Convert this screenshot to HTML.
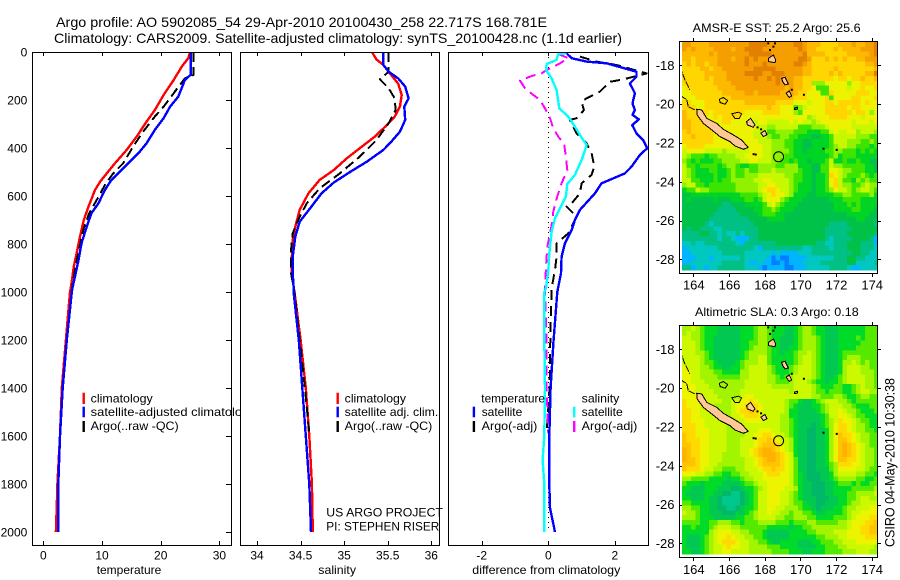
<!DOCTYPE html>
<html lang="en">
<head>
<meta charset="utf-8">
<title>Argo profile 5902085_54</title>
<style>
html,body{margin:0;padding:0;background:#fff;}
svg{display:block;}
text{font-family:"Liberation Sans",sans-serif;fill:#000;}
.t12{font-size:12px;}
.t14{font-size:14px;}
</style>
</head>
<body>
<svg id="chart" xmlns="http://www.w3.org/2000/svg" width="900" height="580" viewBox="0 0 900 580">
  <rect x="0" y="0" width="900" height="580" fill="#fff"/>
  <defs>
    <clipPath id="clip-temp"><rect x="32" y="52" width="199" height="493"/></clipPath>
    <clipPath id="clip-sal"><rect x="240" y="52" width="199" height="493"/></clipPath>
    <clipPath id="clip-diff"><rect x="448" y="52" width="200" height="493"/></clipPath>
    <clipPath id="clip-sst"><rect x="682" y="42" width="195" height="229"/></clipPath>
    <clipPath id="clip-sla"><rect x="682" y="326" width="195" height="229"/></clipPath>
  </defs>

  <text class="t14" x="56" y="27" textLength="491" lengthAdjust="spacingAndGlyphs">Argo profile: AO 5902085_54 29-Apr-2010 20100430_258 22.717S 168.781E</text>
  <text class="t14" x="54" y="43" textLength="568" lengthAdjust="spacingAndGlyphs">Climatology: CARS2009. Satellite-adjusted climatology: synTS_20100428.nc (1.1d earlier)</text>

  <g id="temp-layer"></g>
  <text class="t12" x="90.7" y="402.3" textLength="62" lengthAdjust="spacingAndGlyphs">climatology</text>
  <text class="t12" x="90.7" y="416" textLength="165" lengthAdjust="spacingAndGlyphs">satellite-adjusted climatology</text>
  <text class="t12" x="90.7" y="430" textLength="88" lengthAdjust="spacingAndGlyphs">Argo(..raw -QC)</text>
  <text class="t12" x="96.7" y="574" textLength="64.6" lengthAdjust="spacingAndGlyphs">temperature</text>

  <rect x="240" y="50" width="199" height="497" fill="#fff"/>
  <g id="sal-layer"></g>
  <text class="t12" x="344.7" y="402.3" textLength="61.3" lengthAdjust="spacingAndGlyphs">climatology</text>
  <text class="t12" x="344.7" y="416" textLength="93.6" lengthAdjust="spacingAndGlyphs">satellite adj. clim.</text>
  <text class="t12" x="344.7" y="430" textLength="87.6" lengthAdjust="spacingAndGlyphs">Argo(..raw -QC)</text>
  <text class="t12" x="326.3" y="516.7" textLength="116.7" lengthAdjust="spacingAndGlyphs">US ARGO PROJECT</text>
  <text class="t12" x="326.3" y="530.7" textLength="113" lengthAdjust="spacingAndGlyphs">PI: STEPHEN RISER</text>
  <text class="t12" x="318.3" y="574" textLength="37.7" lengthAdjust="spacingAndGlyphs">salinity</text>

  <g id="diff-layer"></g>
  <text class="t12" x="481.3" y="402.3" textLength="63.7" lengthAdjust="spacingAndGlyphs">temperature</text>
  <text class="t12" x="481.7" y="416" textLength="40.6" lengthAdjust="spacingAndGlyphs">satellite</text>
  <text class="t12" x="481.7" y="430" textLength="55.6" lengthAdjust="spacingAndGlyphs">Argo(-adj)</text>
  <text class="t12" x="581.7" y="402.3" textLength="37.6" lengthAdjust="spacingAndGlyphs">salinity</text>
  <text class="t12" x="581.7" y="416" textLength="41" lengthAdjust="spacingAndGlyphs">satellite</text>
  <text class="t12" x="581.7" y="430" textLength="55.6" lengthAdjust="spacingAndGlyphs">Argo(-adj)</text>
  <text class="t12" x="472.3" y="574" textLength="148" lengthAdjust="spacingAndGlyphs">difference from climatology</text>

  <text class="t12" x="692.7" y="32" textLength="168" lengthAdjust="spacingAndGlyphs">AMSR-E SST: 25.2 Argo: 25.6</text>
  <g id="sst-layer"></g>
  <text class="t12" x="695" y="316" textLength="163.7" lengthAdjust="spacingAndGlyphs">Altimetric SLA: 0.3 Argo: 0.18</text>
  <g id="sla-layer"></g>
  <text class="t14" transform="translate(894.5,547) rotate(-90)" x="0" y="0" textLength="169" lengthAdjust="spacingAndGlyphs">CSIRO 04-May-2010 10:30:38</text>
</svg>

<script>
// ---------- profile data (depth in dbar, values in data units) ----------
const depthTicks = [0,200,400,600,800,1000,1200,1400,1600,1800,2000];
const tempTicks = [0,10,20,30];
const salTicks = [34,34.5,35,35.5,36];
const salTickLabels = ['34','34.5','35','35.5','36'];
const diffTicks = [-2,0,2];

const climTempDepth = [0,26,61,117,179,242,290,353,408,464,506,540,575,644,700,769,825,894,964,1000,1200,1400,1600,1800,1810,2000];
const climTempValues = [25.0,24.7,23.6,22.2,20.5,19.0,17.6,15.9,14.2,12.2,10.8,9.7,8.8,7.7,6.9,6.25,5.8,5.2,4.8,4.55,3.85,3.15,2.85,2.4,2.4,2.15];

const satTempDepth = [0,95,117,186,228,276,325,380,422,471,533,575,630,672,728,797,867,936,978,1000,1200,1400,1600,1800,2000];
const satTempValues = [25.1,25.1,24.1,23.0,21.6,20.5,19.0,17.6,16.2,14.2,11.6,10.5,9.4,8.2,7.4,6.5,6.0,5.4,5.0,4.85,4.0,3.3,2.85,2.55,2.55];

const argoTempDepth = [0,95,110,172,228,269,332,394,464,506,554,617,672,742,811,880,964,1000,1200,1400];
const argoTempValues = [25.6,25.6,24.1,22.2,20.5,19.0,17.0,15.3,13.6,11.9,10.5,9.1,7.8,6.8,6.2,5.6,5.0,4.8,4.0,3.3];

const climSalDepth = [0,31,54,96,132,179,228,269,304,353,401,443,492,533,589,658,728,783,853,922,978,1000,1200,1400,1600,1800,2000];
const climSalValues = [35.32,35.37,35.45,35.54,35.62,35.66,35.64,35.58,35.49,35.35,35.18,35.03,34.88,34.72,34.59,34.49,34.44,34.41,34.40,34.40,34.42,34.43,34.50,34.56,34.60,34.63,34.64];

const satSalDepth = [0,54,82,110,144,193,228,283,332,374,408,457,499,544,589,651,707,769,853,922,978,1000,1200,1400,1600,1800,2000];
const satSalValues = [35.45,35.45,35.51,35.62,35.70,35.74,35.69,35.70,35.64,35.54,35.45,35.26,35.07,34.88,34.74,34.61,34.49,34.44,34.41,34.41,34.42,34.42,34.48,34.52,34.56,34.60,34.62];

const argoSalDepth = [0,82,114,151,193,242,297,367,436,506,568,631,700,756,825,922,978,1000,1200,1400,1590];
const argoSalValues = [35.51,35.51,35.41,35.51,35.58,35.59,35.51,35.37,35.18,34.95,34.72,34.57,34.47,34.41,34.39,34.39,34.42,34.43,34.49,34.55,34.60];

const satTempDiffDepth = [6,26,40,47,82,103,131,172,214,242,262,281,304,339,367,401,429,478,506,547,589,658,700,742,797,853,922,985,1000,1200,1400,1600,1800,1900,2000];
const satTempDiffValues = [0.55,0.70,1.15,1.75,2.65,2.65,2.45,2.60,2.53,2.60,2.53,2.72,2.52,2.65,2.85,2.97,2.75,2.50,2.30,1.60,1.40,0.95,0.80,0.70,0.50,0.40,0.38,0.29,0.27,0.16,0.07,0.03,0.03,0.05,0.20];

const argoTempDiffDepth = [19,40,54,89,114,124,165,193,207,242,276,283,339,381,422,478,512,547,589,631,644,686,756,797,853,908,985,1200,1400,1590];
const argoTempDiffValues = [0.95,1.45,2.05,2.95,2.25,1.85,1.55,1.15,1.0,1.07,0.85,0.65,0.85,1.15,1.30,1.38,1.30,1.0,0.95,0.70,0.55,0.85,0.60,0.25,0.25,0.20,0.10,0.06,0.04,-0.05];

const satSalDiffDepth = [6,8,33,50,75,110,158,235,269,311,346,388,450,512,550,603,651,693,749,839,908,985,1000,1200,1400,1600,1700,1800,2000];
const satSalDiffValues = [0.55,0.30,0.25,-0.05,-0.07,0.10,0.25,0.33,0.60,0.80,0.95,1.15,1.0,0.80,0.57,0.53,0.35,0.20,0.10,0.03,0,-0.07,-0.12,-0.12,-0.10,-0.12,-0.17,-0.12,-0.12];

const argoSalDiffDepth = [8,26,47,75,89,100,119,151,179,200,235,276,318,353,381,436,492,547,611,665,700,756,811,894,985,1200,1400,1590];
const argoSalDiffValues = [0.30,0.60,0.35,-0.05,-0.20,-0.50,-0.85,-0.70,-0.45,-0.25,-0.10,0.05,0.15,0.30,0.47,0.53,0.57,0.40,0.25,0.15,0.13,0.05,-0.03,-0.07,-0.10,-0.05,-0.05,0.0];

const zeroLineDepth = [0,2000];

// ---------- map data: one letter per quarter-degree cell, a (cool/low) .. n (warm/high); spaces only aid reading ----------
const sstRows = [
 'mmlll lmmmm mmmmm nnnnm mmmmm nnmll lkkkk lllml lmmn',
 'mlmll llmmm mlmmn nnnmm mmmmm mnmll kkkkl kllll mmmn',
 'lllll lmlmm mmmmm nnnnn mmmmm mmnll llkkk kklll llmn',
 'llkll lllmm mlmmn mnmmm mmmmm mnnmk kklkl klkkl lmmm',
 'klkll kllmm mmmmn mmmnm mmmmm nnmlk kkkkk kkkkk kllm',
 'kkkkl lkllm mmmmm mnnnn nmmmm mmllk kkkkl kkkkk kkkl',
 'kkkkk lllll mmmmn nnnmm nnnmm mmllk kkklk lkkkk klln',
 'kkkkk lklll mmmmm mnmmn mnmmm llkkk kkkkj kkjkk lkkl',
 'kkkkk kklll lmmmm mmmmm mnmmm llkkh hhjjj jjhjj kkkk',
 'jkkkk kkkll llmmm mmmmm mmmlm llkkj gggjj jjijj kjjk',
 'jjkkk kkkkl llllm mlmmm mmllm lkkjj jggkj jjjjk kkjj',
 'jjjkk kkkkk kllll lllll lllll kkkjj jjkgj jjjkk jjjk',
 'kkjjj kkkkk kkkkl lllll lkkkk jjjij jjkkj kkkkk jkjj',
 'kkkjj kkkkk kkkkk kkkkl kkjjj ghijj jjkkk kkjkk jjjj',
 'lkkkk kjkkk kkkkj jjjkk kkjjj hgjjj jjkkk kkkjk kjhj',
 'lkkkk jjkjk kkkjj jjjjj jjjjj jjjhi jjjkk kkjjj ijjj',
 'llkkk jjjjk kjjjj jijji iiiij ijiih ijjjj jjjij jjij',
 'llkkk kjjjj jjjjj jjiih hiiii igggh hhijj jjjii iiii',
 'klkkk kkjjj jjjjj jiiig ghhhh gggff fggij iijjh iiih',
 'kklkk kkjjj jjjjj jiiih gghhg gfffe effgi iiiih hhgg',
 'kkkkk kkjjj jjjjj jjiii hhhgg ffeef fffgi iihhh gghg',
 'jkkkk jjjjj jjiij jjjii hhhgg ffeef fffgh iihhg ggfg',
 'ijjjj iiiih iiiii jjjii hhhhg ffeff ffggh hgggf gfgf',
 'ihggg fgghh hhiij jjjii hhhgg fffff fffgh fgggf ffff',
 'hgfgf ffggh hhhii jjiii hhggf gffef ffgif fgffg ffee',
 'iggfg gggfg hhgff gghhh hgghh hfffe eggih hgggg gffe',
 'ihgff fggff ghggh gghhh ihhhh hgffe eggjj ihhgg gffe',
 'ihgff ffgff ghggh hhiii iiihh ggffe ffgkj ihggg hgfg',
 'iiggf ffgfg ghhhh hiijj iiiih ggffe ffgjk iggfh ghgg',
 'hiigg fgggg gghhh hhiij jiiih gfffe ffgjk ihhgg hihh',
 'fggih hgggg gghhh hhijk kjiih gfffe ffghj iihgh iihg',
 'eefff fffff fffgg gghij kjjih fffee ffffg ghhgg gghf',
 'efeee eefee efffg gfgij jjhgf ffeee eeeff fgggg ffff',
 'eeeee eeeed deeef fffgi jhgff feeee eeeef ffgfg ffff',
 'eeeee eeedd ddeee effgg hgfff eeeee eeeef fffgg fffe',
 'eeeee eeddd dddee eefgg gffee eeeee eeeee eefff ffee',
 'eeeee edddd ddddd eeeef fffee eeeee eeeee eeeef feee',
 'eeeee dcddd ddddd deeee eeeee eeeee eeedd ddeee eeed',
 'edeed ddccd ddddd ddeee eeeee eeeee eeddd dddee eeee',
 'dddde eddcd ccdcd ddeee eeeee eeeee eeddd ddeee eeed',
 'ddddd dddcd dcbbb ddeee eeeee eeeee eedcd dddee eedb',
 'ccdcc ddddd ddcbd ddddd deeee eeeee ddccd ddeee dddb',
 'bcccc cccdd ddddd dcbdd ddddd ddccd dddcd ddeee dddc',
 'bbccc ccccd ddddc ccccc bcbbb bcccd ddddd dddee ddcc',
 'bbbcc cbccc cccdc ccccb abaab bbbcc ccccd ddeed dccc',
 'bbccc ccccd ddddc bbcbb aabab bbccc cdddd ddeec cccd',
 'ddbcc bccdd ddddc ccbab bbbaa bbbcc cccdd ddcbb cccc'
];
const slaRows = [
 'hhihg fffee eeeff fghhg fffee fghhg ffeee fffff fggg',
 'hihhg fffee eeeff fghhg fffee fghhg ffeee fffff fggg',
 'iihhg ffeee eeeff fghhg ffeee fghhh gfeee ffffg fggg',
 'iiihg ffeee eeeff gghhg ffeee fghhh gfeee fffff gggg',
 'iiihg ffeee eeeff ghhhg ffeef fghhh gfeee ffffg gggg',
 'iiihh gfeee eeefg hhhhg ffeff ghhih gfeee fgggg gggg',
 'iiiih gfeee eeefg hhiig fffff ghiih gfeee fghhh gggg',
 'iiiih ggfee eefgh hhiig fffff ghiih gfeee fhhih ghgg',
 'jiiih hgffe effgh iiiih gfffg hiiih gfeee fhiii hhgg',
 'jjiih hhggf fffhh iiiih gfffg hiiih gfeee fhiii hhhg',
 'jjiih hhhgg ggghh iiiih hgfgh iiiih gfeef ghiii ihhg',
 'jjiii hhhhh hhhhi iiiih hgggh iiihg ffeff ghiii ihhg',
 'jjjii ihhhh hhhhi iiiii hhhhh iiiih gfffg gffgh ihhg',
 'jjjii iihhh hhhii iiiii iiiih iiiih ggfgg gffgh iihh',
 'jjjji iiihh hhhij jiiii iiiii iiiih hgggh hgffg hhgg',
 'kjjji iiiih hiijj kjiii iiihg gfeef ghiii hhgfg gggg',
 'kjjji iihhh hijjk kkjii iiihg feeef fghii ihhgf ffgg',
 'kkjji ihhhh hijkk lkjii iiihf feeee fghii jihhg fffg',
 'kkjji iiihh hiijk kkjii iihhf feeee efgii jjihg gfff',
 'kkjjj iiiih hhiij jjjii iihhg feeee efghi kjjih ggff',
 'kkkjj iiiii hhhii iiiii iihhg feeed efghj kkjih hgff',
 'kkkjj jiiii hhhhi iijjj iihhg feedd eefhj kkjih hggf',
 'lkkjj jiiii hhhhi ijjkk jiihg feedd eefhj lkkji hhgg',
 'lkkkj jiiii hhhii ijkkl kjiih feedd eefhj llkji hhgg',
 'llkkj jiiii hhhii ijkll lkjih feedd eefhj lmlkj ihgg',
 'mlkkj jiiii hhhii jklmm lkjih feedd eefhj lmlkj ihhg',
 'mlkkj jiiih hhhii jklmm mlkji feedd eefhj lmlkj ihhg',
 'mllkj jiiih hhhhi ijklm mlkji geedd eefhj llkkj ihhg',
 'lllkj jiihh hhhhi ijkll llkji geedd eefgh kkkjj ihhg',
 'lkkkj iihhg gghhi iijkk lkkji geedd eeegh jjjji ihgg',
 'jjjii hhggf fgghh iiijk kkjji gfedd deefh iiiih hggf',
 'hhggg gffff effgh hiijj jjjji gfedd deefg hhhhg gffg',
 'gfffe ffffe eeefg ghiij jjjji gfeed ddeef gggfg ffgg',
 'ffeee fffee eddef fghij jjjii hfeed ddeef fffgg gggh',
 'feeee ffeed dccde fgiij jjiih gfeed ddeef ffggh hhhi',
 'ffeee feedc cccde fgiij jjiih gfeee dddee ffggh iihh',
 'ggfff feedc cccde fgiij jjiih ggfee ddeee ffghh iiii',
 'hhggf feedd ccdef fgiij jiihh hgffe deeef fghhi iijj',
 'ihhgf feeed ddeef ghiij iihhg hhggf eefff fghii jjjj',
 'hhhgf ffeee eeffg ghiii ihhgg hhhgg ffffg gghij jjkk',
 'ggggf fgghh hggfg gghhh hgggf ggghh ggggg hhijj jkkl',
 'ffgff fghii ihhgg ggggf ffffe ffggh hhhhh hhijj kkll',
 'fffff fhijj jiihh gggfe eeeef fffgg hhhhi iijjj kkll',
 'feeef ghijj kjiih hggfe eeeef fffff gghhh iijjj jkkk',
 'feeef ghijk kkjii hhggf eefff feeef fgggh hiiij jjjj',
 'feeef ghiij kjjii hhhhg ggfff feeee ffggg hhiii iiih',
 'ffeef ghiij jiiii hhhhh ggggf ffeef ffggg ghhhi iihh'
];
const mapColumns = 44;

// coastline vertices in degrees (lon, lat)
const caledoniaLon = [164.19,164.47,164.75,165.31,165.68,166.24,166.71,167.08,166.80,166.34,166.06,165.50,165.03,164.56,164.22];
const caledoniaLat = [-20.27,-20.30,-20.73,-20.99,-21.30,-21.59,-21.85,-22.23,-22.33,-22.16,-21.94,-21.68,-21.33,-20.99,-20.56];
const peachIslandLons = [
 [168.21,168.49,168.62,168.58,168.21],
 [168.95,169.14,169.33,169.14,169.01],
 [169.2,169.38,169.51,169.38],
 [166.99,167.21,167.46,167.36,167.03],
 [167.79,168.02,168.13,167.93]
];
const peachIslandLats = [
 [-17.64,-17.47,-17.73,-17.86,-17.81],
 [-18.67,-18.62,-18.96,-19.01,-18.84],
 [-19.44,-19.32,-19.58,-19.66],
 [-20.9,-20.73,-21.07,-21.19,-21.07],
 [-21.5,-21.36,-21.58,-21.67]
];
const atollLons = [
 [165.46,165.68,165.93,165.78,165.5],
 [166.15,166.53,166.71,166.58,166.34],
 [169.66,169.85,169.85,169.66]
];
const atollLats = [
 [-19.75,-19.66,-19.82,-20.01,-19.92],
 [-20.5,-20.42,-20.5,-20.73,-20.73],
 [-20.21,-20.16,-20.26,-20.28]
];
const reefLons = [[163.25,163.53,163.81],[163.25,163.63,163.72,164.09]];
const reefLats = [[-18.07,-18.75,-19.27],[-19.53,-19.78,-20.13,-20.3]];
const dotLons = [168.2,168.58,168.49,168.3,170.2,169.52,171.3,172.04,167.6,167.8,167.38,167.5];
const dotLats = [-16.87,-16.87,-17.04,-17.21,-19.52,-19.26,-22.3,-22.36,-21.2,-21.3,-22.58,-22.6];
const floatLon = [168.781];
const floatLat = [-22.717];
const lonTicks = [164,166,168,170,172,174];
const latTicks = [-18,-20,-22,-24,-26,-28];

// ---------- helpers ----------
const NS = 'http://www.w3.org/2000/svg';
function mk(parent, tag, props) {
  const el = document.createElementNS(NS, tag);
  for (const k in props) el.setAttribute(k, props[k]);
  parent.appendChild(el);
  return el;
}
const yDepth = d => 52 + d * 0.24;
const xTemp = v => 43.3 + v * 5.87;
const xSal = v => 257 + (v - 34) * 87.15;
const xDiff = v => 548.3 + v * 33.3;
const xLon = lon => 693.3 + (lon - 164) * 17.84;

function drawProfile(layer, name, xFn, depths, values, color, width, dash) {
  const pts = depths.map((d, i) => xFn(values[i]).toFixed(1) + ',' + yDepth(d).toFixed(1)).join(' ');
  const line = mk(layer, 'polyline', {points: pts, fill: 'none', stroke: color, 'stroke-width': width, 'stroke-dasharray': dash || 'none', 'stroke-linejoin': 'round', 'shape-rendering': 'crispEdges'});
  
  
}
function drawLegendBar(layer, name, x, y0, y1, color) {
  const bar = mk(layer, 'rect', {x: x, y: y0, width: 2.4, height: y1 - y0, fill: color});
  
  
}
function drawFrame(layer, name, x0, y0, x1, y1) {
  const frame = mk(layer, 'rect', {x: x0 + .5, y: y0 + .5, width: x1 - x0, height: y1 - y0, fill: 'none', stroke: '#000', 'stroke-width': 1, 'shape-rendering': 'crispEdges'});
  
  
}
function drawTickMark(layer, name, x1, y1, x2, y2) {
  const tick = mk(layer, 'line', {x1: x1, y1: y1, x2: x2, y2: y2, stroke: '#000', 'stroke-width': 1, 'shape-rendering': 'crispEdges'});
  
  
}
function drawLabel(layer, name, x, y, str, size, anchor) {
  const label = mk(layer, 'text', {x: x, y: y, 'font-size': size, 'text-anchor': anchor});
  label.textContent = str;
  
  
}
function drawXAxis(layer, x0, y0, x1, y1, xFn, ticks, labels) {
  ticks.forEach((t, i) => {
    const x = Math.round(xFn(t)) + .5;
    drawTickMark(layer, 'x-tick-top', x, y0, x, y0 + 4);
    drawTickMark(layer, 'x-tick-bottom', x, y1, x, y1 - 4);
    drawLabel(layer, 'x-tick-label', xFn(t), 559.3, labels ? labels[i] : String(t), 12, 'middle');
  });
}

// ---------- temperature panel ----------
const tempLayer = document.getElementById('temp-layer');
const tempClip = mk(tempLayer, 'g', {'clip-path': 'url(#clip-temp)'});


drawProfile(tempClip, 'temperature-climatology-line', xTemp, climTempDepth, climTempValues, '#f00', 2.4);
drawProfile(tempClip, 'temperature-argo-line', xTemp, argoTempDepth, argoTempValues, '#000', 2, '10 5');
drawProfile(tempClip, 'temperature-satellite-line', xTemp, satTempDepth, satTempValues, '#00f', 2.4);
drawFrame(tempLayer, 'temperature-frame', 32, 52, 231, 545);
drawXAxis(tempLayer, 32, 52, 231, 545, xTemp, tempTicks);
depthTicks.forEach(d => {
  const y = Math.round(yDepth(d)) + .5;
  drawTickMark(tempLayer, 'depth-tick', 226, y, 231, y);
  drawLabel(tempLayer, 'depth-tick-label', 27.3, yDepth(d) + 4.3, String(d), 12, 'end');
});
drawLegendBar(tempLayer, 'temperature-legend-climatology-swatch', 82.5, 392.7, 404, '#f00');
drawLegendBar(tempLayer, 'temperature-legend-satellite-swatch', 82.5, 406.7, 417.3, '#00f');
drawLegendBar(tempLayer, 'temperature-legend-argo-swatch', 82.5, 421, 432, '#000');

// ---------- salinity panel ----------
const salLayer = document.getElementById('sal-layer');
const salClip = mk(salLayer, 'g', {'clip-path': 'url(#clip-sal)'});


drawProfile(salClip, 'salinity-climatology-line', xSal, climSalDepth, climSalValues, '#f00', 2.4);
drawProfile(salClip, 'salinity-argo-line', xSal, argoSalDepth, argoSalValues, '#000', 2, '10 5');
drawProfile(salClip, 'salinity-satellite-line', xSal, satSalDepth, satSalValues, '#00f', 2.4);
drawFrame(salLayer, 'salinity-frame', 240, 52, 439, 545);
drawXAxis(salLayer, 240, 52, 439, 545, xSal, salTicks, salTickLabels);
drawLegendBar(salLayer, 'salinity-legend-climatology-swatch', 336.5, 392.7, 404, '#f00');
drawLegendBar(salLayer, 'salinity-legend-satellite-swatch', 336.5, 406.7, 417.3, '#00f');
drawLegendBar(salLayer, 'salinity-legend-argo-swatch', 336.5, 421, 432, '#000');

// ---------- difference panel ----------
const diffLayer = document.getElementById('diff-layer');
const diffClip = mk(diffLayer, 'g', {'clip-path': 'url(#clip-diff)'});


drawProfile(diffClip, 'zero-reference-line', xDiff, zeroLineDepth, [0, 0], '#000', 1, '1 4');
drawProfile(diffClip, 'temperature-difference-argo-line', xDiff, argoTempDiffDepth, argoTempDiffValues, '#000', 2, '10 6');
drawProfile(diffClip, 'salinity-difference-argo-line', xDiff, argoSalDiffDepth, argoSalDiffValues, '#f0f', 2, '10 6');
drawProfile(diffClip, 'temperature-difference-satellite-line', xDiff, satTempDiffDepth, satTempDiffValues, '#00f', 2.4);
drawProfile(diffClip, 'salinity-difference-satellite-line', xDiff, satSalDiffDepth, satSalDiffValues, '#0ff', 2.4);
drawFrame(diffLayer, 'difference-frame', 448, 52, 648, 545);
drawXAxis(diffLayer, 448, 52, 648, 545, xDiff, diffTicks);
drawLegendBar(diffLayer, 'difference-legend-temperature-satellite-swatch', 472.7, 406.7, 417.3, '#00f');
drawLegendBar(diffLayer, 'difference-legend-temperature-argo-swatch', 472.7, 421, 432, '#000');
drawLegendBar(diffLayer, 'difference-legend-salinity-satellite-swatch', 573, 406.7, 417.3, '#0ff');
drawLegendBar(diffLayer, 'difference-legend-salinity-argo-swatch', 573, 421, 432, '#f0f');

// ---------- maps ----------
const sstColors = {
  a:'#0080ff', b:'#00b4ff', c:'#00c8c0', d:'#00c084', e:'#00c248', f:'#00d424',
  g:'#3ce400', h:'#90f200', i:'#c8f800', j:'#ecf200', k:'#ffd600', l:'#fdb800',
  m:'#f59e00', n:'#e48000'
};
const slaColors = {
  a:'#0080ff', b:'#00b4ff', c:'#00c88c', d:'#00b868', e:'#00c850', f:'#00da28',
  g:'#54ea00', h:'#a2f400', i:'#ccf800', j:'#ecf400', k:'#ffda00', l:'#ffc400',
  m:'#ffb000', n:'#e48000'
};
function drawMap(layer, prefix, rows, colors, y18, frameTop, frameBottom, clipId, labelBaseline) {
  const yLat = lat => y18 + (-18 - lat) * 19.4;
  const cells = mk(layer, 'g', {'clip-path': 'url(#' + clipId + ')', 'shape-rendering': 'crispEdges'});
  
  
  rows.forEach((rowText, r) => {
    const row = rowText.replace(/ /g, '');
    for (let c = 0; c < mapColumns; c++) {
      const lon = 163.37 + c * 0.25;
      const lat = -16.8 - r * 0.25;
      const x0 = xLon(lon), x1 = xLon(lon + 0.25);
      const y0 = yLat(lat), y1 = yLat(lat - 0.25);
      const letter = row[Math.min(c, row.length - 1)];
      const cell = mk(cells, 'rect', {x: x0.toFixed(2), y: y0.toFixed(2), width: (x1 - x0 + .3).toFixed(2), height: (y1 - y0 + .3).toFixed(2), fill: colors[letter]});
      
      
    }
  });
  const coast = mk(layer, 'g', {'clip-path': 'url(#' + clipId + ')'});
  
  
  const toPts = (lons, lats) => lons.map((l, i) => xLon(l).toFixed(1) + ',' + yLat(lats[i]).toFixed(1)).join(' ');
  const mainIsland = mk(coast, 'polygon', {points: toPts(caledoniaLon, caledoniaLat), fill: '#ffc896', stroke: '#000', 'stroke-width': 1, 'shape-rendering': 'crispEdges'});
  
  
  peachIslandLons.forEach((lons, i) => {
    const isle = mk(coast, 'polygon', {points: toPts(lons, peachIslandLats[i]), fill: '#ffc896', stroke: '#000', 'stroke-width': 1, 'shape-rendering': 'crispEdges'});
    
    
  });
  atollLons.forEach((lons, i) => {
    const atoll = mk(coast, 'polygon', {points: toPts(lons, atollLats[i]), fill: 'none', stroke: '#000', 'stroke-width': 1, 'shape-rendering': 'crispEdges'});
    
    
  });
  reefLons.forEach((lons, i) => {
    const reef = mk(coast, 'polyline', {points: toPts(lons, reefLats[i]), fill: 'none', stroke: '#000', 'stroke-width': 1, 'stroke-dasharray': '7 1', 'shape-rendering': 'crispEdges'});
    
    
  });
  dotLons.forEach((lon, i) => {
    const dot = mk(coast, 'rect', {x: xLon(lon) - 1, y: yLat(dotLats[i]) - 1, width: 2, height: 2, fill: '#000'});
    
    
  });
  const marker = mk(layer, 'circle', {cx: xLon(floatLon[0]), cy: yLat(floatLat[0]), r: 5, fill: 'none', stroke: '#000', 'stroke-width': 1});
  
  

  const left = 679, right = 877;
  const frame = mk(layer, 'rect', {x: left + .5, y: frameTop + .5, width: right - left, height: frameBottom - frameTop, fill: 'none', stroke: '#000', 'stroke-width': 1.3, 'shape-rendering': 'crispEdges'});
  
  
  lonTicks.forEach(t => {
    const x = Math.round(xLon(t)) + .5;
    drawTickMark(layer, prefix + '-lon-tick-top', x, frameTop, x, frameTop - 3);
    drawTickMark(layer, prefix + '-lon-tick-bottom', x, frameBottom + 1, x, frameBottom + 4);
    drawLabel(layer, prefix + '-lon-tick-label', xLon(t) + .5, labelBaseline, String(t), 13, 'middle');
  });
  latTicks.forEach(t => {
    const y = Math.round(yLat(t)) + .5;
    drawTickMark(layer, prefix + '-lat-tick-left', left, y, left + 3, y);
    drawTickMark(layer, prefix + '-lat-tick-right', right + 1, y, right + 4, y);
    drawLabel(layer, prefix + '-lat-tick-label', 674.5, yLat(t) + 4.6, String(t), 13, 'end');
  });
}
const sstLayer = document.getElementById('sst-layer');
drawMap(sstLayer, 'sst', sstRows, sstColors, 65.3, 41, 273, 'clip-sst', 289.3);
const slaLayer = document.getElementById('sla-layer');
drawMap(slaLayer, 'sla', slaRows, slaColors, 349.3, 325, 557, 'clip-sla', 574);
</script>
</body>
</html>
